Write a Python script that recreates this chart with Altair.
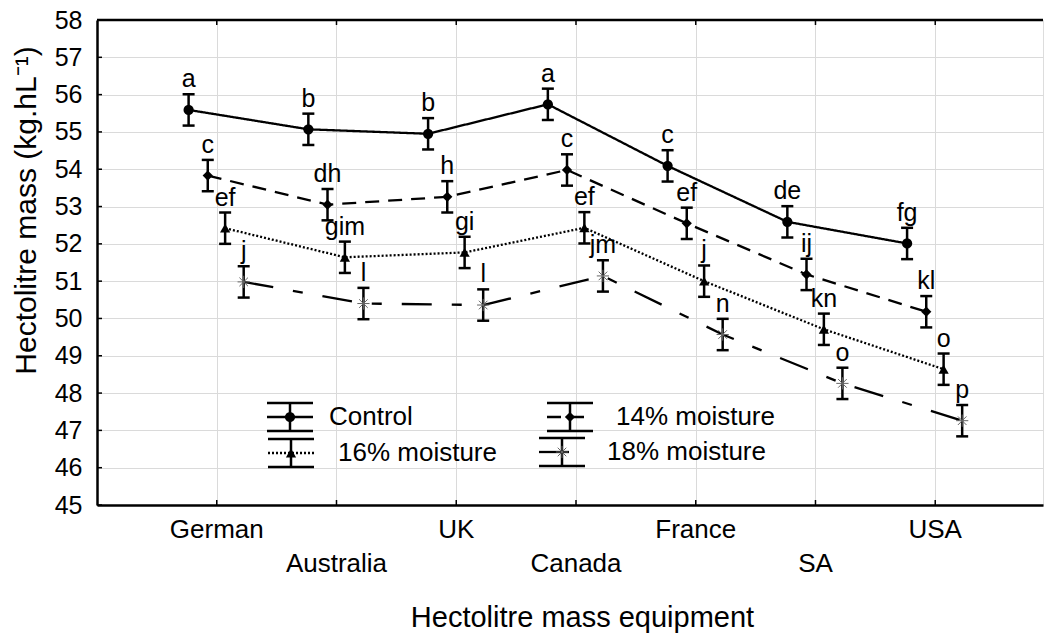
import altair as alt
import pandas as pd

# Hectolitre mass by measuring equipment and wheat moisture treatment
equipment = ["German", "Australia", "UK", "Canada", "France", "SA", "USA"]
series = ["Control", "14% moisture", "16% moisture", "18% moisture"]

control = [55.59, 55.07, 54.95, 55.74, 54.09, 52.59, 52.01]
moist14 = [53.83, 53.05, 53.26, 53.98, 52.55, 51.18, 50.18]
moist16 = [52.42, 51.64, 51.77, 52.43, 51.00, 49.71, 48.64]
moist18 = [50.98, 50.40, 50.36, 51.14, 49.57, 48.26, 47.26]

err_control = [0.42, 0.42, 0.42, 0.42, 0.42, 0.42, 0.42]
err_14 = [0.42, 0.42, 0.42, 0.42, 0.42, 0.42, 0.42]
err_16 = [0.42, 0.42, 0.42, 0.42, 0.42, 0.42, 0.42]
err_18 = [0.42, 0.42, 0.42, 0.42, 0.42, 0.42, 0.42]

letters_control = ["a", "b", "b", "a", "c", "de", "fg"]
letters_14 = ["c", "dh", "h", "c", "ef", "ij", "kl"]
letters_16 = ["ef", "gim", "gi", "ef", "j", "kn", "o"]
letters_18 = ["j", "l", "l", "jm", "n", "o", "p"]

y_ticks = list(range(45, 59))

# horizontal dodge of each treatment within an equipment slot
dodge = {"Control": -0.235, "14% moisture": -0.075, "16% moisture": 0.07, "18% moisture": 0.225}

means = [control, moist14, moist16, moist18]
errs = [err_control, err_14, err_16, err_18]
letters = [letters_control, letters_14, letters_16, letters_18]

rows = []
for s, m, e, l in zip(series, means, errs, letters):
    for i, name in enumerate(equipment):
        rows.append({
            "equipment": name, "idx": i, "series": s,
            "xpos": i + dodge[s], "mean": m[i],
            "lo": m[i] - e[i], "hi": m[i] + e[i], "letter": l[i],
        })
df = pd.DataFrame(rows)
eq_df = pd.DataFrame({"idx": list(range(len(equipment))), "name": equipment})
yt_df = pd.DataFrame({"v": y_ticks})

W, H = 946, 485
FONT = "Liberation Sans"

xscale = alt.Scale(domain=[-1, 6.9], nice=False, zero=False)
yscale = alt.Scale(domain=[45, 58], nice=False, zero=False)

xaxis = alt.Axis(
    values=list(range(len(equipment))), labels=False, ticks=False, tickSize=0,
    domainColor="black", domainWidth=2.5, grid=True, gridColor="#dadada", gridWidth=1,
    title="Hectolitre mass equipment", titleFontSize=29, titleFontWeight="normal",
    titleColor="black", titleX=485, titleY=112, titleBaseline="middle", titleAlign="center",
)
yaxis = alt.Axis(
    values=y_ticks, ticks=False, tickSize=0, labelPadding=15, labelFontSize=25,
    labelColor="black", labelOverlap=False, domainColor="black", domainWidth=2.5,
    grid=True, gridColor="#dadada", gridWidth=1,
    title="Hectolitre mass (kg.hL⁻¹)", titleFontSize=30, titleFontWeight="normal",
    titleColor="black", titleX=-71, titleY=190, titleAngle=270,
    titleBaseline="middle", titleAlign="center",
)


def X(field):
    return alt.X(f"{field}:Q", scale=xscale, axis=xaxis)


def Y(field):
    return alt.Y(f"{field}:Q", scale=yscale, axis=yaxis)


dash = alt.StrokeDash(
    "series:N",
    scale=alt.Scale(domain=series, range=[[1, 0], [14, 9], [2, 2], [30, 20, 10, 20]]),
    legend=None,
)
filled_shapes = alt.Shape(
    "series:N",
    scale=alt.Scale(domain=series[:3], range=["circle", "diamond", "triangle-up"]),
    legend=None,
)
asterisk = "M-1,0L1,0M0,-1L0,1M-0.7,-0.7L0.7,0.7M-0.7,0.7L0.7,-0.7"

base = alt.Chart(df)

lines = base.mark_line(color="black", strokeWidth=2.3).encode(
    x=X("xpos"), y=Y("mean"), strokeDash=dash, detail="series:N"
)
bars = base.mark_rule(color="black", strokeWidth=2.5).encode(
    x=X("xpos"), y=Y("lo"), y2="hi"
)
cap_hi = base.mark_rule(color="black", strokeWidth=2.5, xOffset=-6, x2Offset=6).encode(
    x=X("xpos"), x2="xpos", y=Y("hi")
)
cap_lo = base.mark_rule(color="black", strokeWidth=2.5, xOffset=-6, x2Offset=6).encode(
    x=X("xpos"), x2="xpos", y=Y("lo")
)
points = base.transform_filter(alt.datum.series != "18% moisture").mark_point(
    filled=True, color="black", size=105, opacity=1
).encode(x=X("xpos"), y=Y("mean"), shape=filled_shapes)
stars = base.transform_filter(alt.datum.series == "18% moisture").mark_point(
    shape=asterisk, filled=False, stroke="#666", strokeWidth=1, size=150, opacity=1
).encode(x=X("xpos"), y=Y("mean"))
letter_text = base.mark_text(
    fontSize=25, font=FONT, baseline="alphabetic", dy=-7, color="black"
).encode(x=X("xpos"), y=Y("hi"), text="letter:N")

# frame ticks (pointing into the plot) and top border
y_tick_marks = alt.Chart(yt_df).mark_rule(color="black", strokeWidth=1.5).encode(
    y=Y("v"), x=alt.value(0), x2=alt.value(5)
)
x_tick_bottom = alt.Chart(eq_df).mark_rule(color="black", strokeWidth=1.5).encode(
    x=X("idx"), y=alt.value(H), y2=alt.value(H - 5)
)
x_tick_top = alt.Chart(eq_df).mark_rule(color="black", strokeWidth=1.5).encode(
    x=X("idx"), y=alt.value(0), y2=alt.value(5)
)
top_border = alt.Chart(alt.Data(values=[{"k": 1}])).mark_rule(
    color="black", strokeWidth=2.5
).encode(x=alt.value(0), x2=alt.value(W), y=alt.value(0))

# staggered category labels in two rows
labels_row1 = alt.Chart(eq_df).transform_filter("datum.idx % 2 == 0").mark_text(
    fontSize=26, font=FONT, baseline="alphabetic", color="black"
).encode(x=X("idx"), y=alt.value(518), text="name:N")
labels_row2 = alt.Chart(eq_df).transform_filter("datum.idx % 2 == 1").mark_text(
    fontSize=26, font=FONT, baseline="alphabetic", color="black"
).encode(x=X("idx"), y=alt.value(552), text="name:N")

# legend drawn inside the plot: symbol centre (cx, cy) and text start tx
legend_layout = {
    "Control": (193, 397, 232),
    "14% moisture": (473, 397, 519),
    "16% moisture": (194, 433, 241),
    "18% moisture": (465, 432, 510),
}
leg_rows = []
for s in series:
    cx, cy, tx = legend_layout[s]
    leg_rows.append({
        "series": s, "cx": cx, "cy": cy, "tx": tx,
        "x0": cx - 23, "x1": cx + 23, "ct": cy - 14, "cb": cy + 14,
    })
leg = alt.Chart(pd.DataFrame(leg_rows))
px = lambda f: alt.X(f"{f}:Q", scale=None, axis=None)
py = lambda f: alt.Y(f"{f}:Q", scale=None, axis=None)

leg_cap_t = leg.mark_rule(color="black", strokeWidth=2.5).encode(x=px("x0"), x2="x1", y=py("ct"))
leg_cap_b = leg.mark_rule(color="black", strokeWidth=2.5).encode(x=px("x0"), x2="x1", y=py("cb"))
leg_vert = leg.mark_rule(color="black", strokeWidth=2.5).encode(x=px("cx"), y=py("ct"), y2="cb")
leg_line = leg.mark_rule(color="black", strokeWidth=2.3).encode(
    x=px("x0"), x2="x1", y=py("cy"), strokeDash=dash
)
leg_pts = leg.transform_filter(alt.datum.series != "18% moisture").mark_point(
    filled=True, color="black", size=105, opacity=1
).encode(x=px("cx"), y=py("cy"), shape=filled_shapes)
leg_star = leg.transform_filter(alt.datum.series == "18% moisture").mark_point(
    shape=asterisk, filled=False, stroke="#666", strokeWidth=1, size=150, opacity=1
).encode(x=px("cx"), y=py("cy"))
leg_text = leg.mark_text(
    fontSize=26, font=FONT, align="left", baseline="middle", color="black"
).encode(x=px("tx"), y=py("cy"), text="series:N")

chart = alt.layer(
    lines, bars, cap_hi, cap_lo, points, stars, letter_text,
    y_tick_marks, x_tick_bottom, x_tick_top, top_border,
    labels_row1, labels_row2,
    leg_line, leg_cap_t, leg_cap_b, leg_vert, leg_pts, leg_star, leg_text,
).properties(
    width=W, height=H,
    autosize=alt.AutoSizeParams(type="none"),
    padding={"left": 97, "top": 20, "right": 1, "bottom": 130},
).configure_view(stroke=None).configure(font=FONT, background="white")

chart.save("out.html", embed_options={"renderer": "svg", "actions": False})
